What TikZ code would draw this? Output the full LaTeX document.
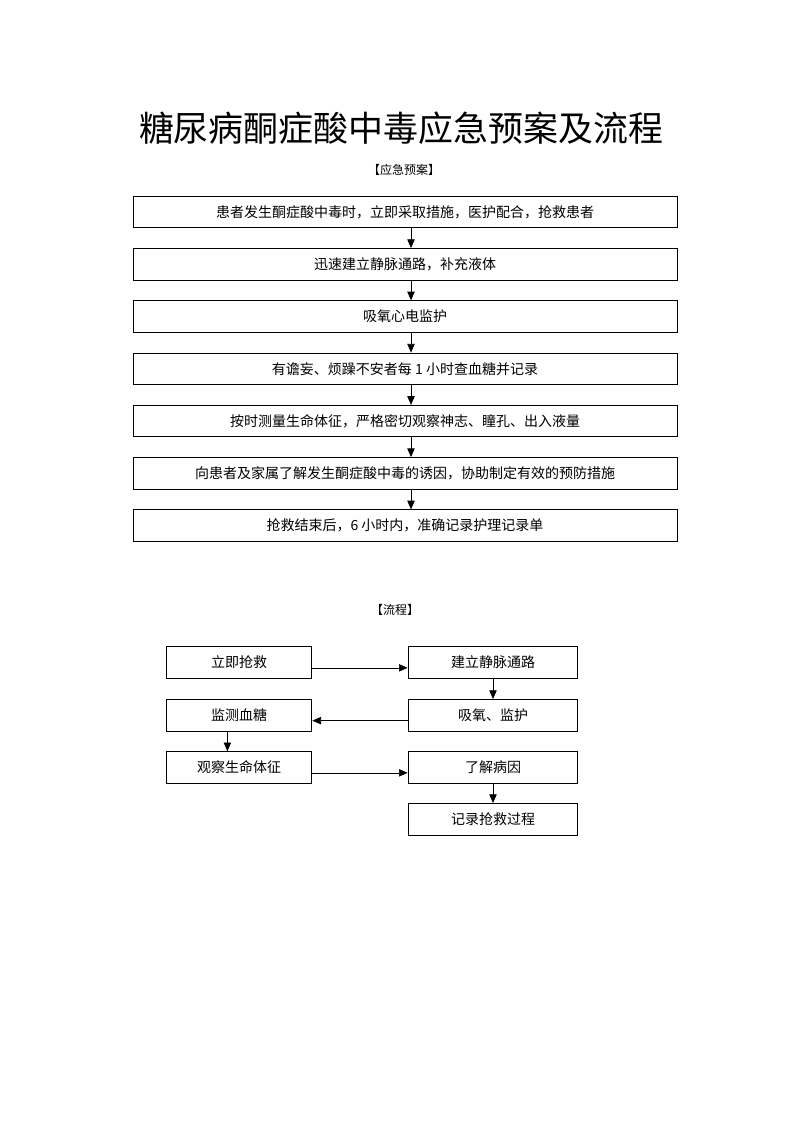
\documentclass[tikz,border=0pt]{standalone}
\usepackage{fontspec}
\setmainfont{Noto Sans CJK SC}
\usepackage{tikz}
\usetikzlibrary{positioning,arrows.meta}

\begin{document}
\begin{tikzpicture}[x=0.75pt, y=-0.75pt, node distance={14.9pt},
    step box/.style = {draw, line width=0.7pt, minimum width=408pt, minimum height=23.6pt, inner sep=0pt, font=\fontsize{10.5}{12}\selectfont},
    left box/.style = {draw, line width=0.7pt, minimum width=109.3pt, minimum height=23.7pt, inner sep=0pt, font=\fontsize{10.5}{12}\selectfont},
    right box/.style = {draw, line width=0.7pt, minimum width=127.3pt, minimum height=23.7pt, inner sep=0pt, font=\fontsize{10.5}{12}\selectfont},
    arr/.style = {line width=0.5pt, -{Triangle[length=6.5pt, width=5.5pt]}}]
    \useasboundingbox (0,0) rectangle (800,1132);

    \node (title) at (401,128) {\fontsize{26.2}{30}\selectfont 糖尿病酮症酸中毒应急预案及流程};
    \node (plan) at (404,170) {\fontsize{9}{11}\selectfont 【应急预案】};

    \node[step box] (s1) at (405,212) {患者发生酮症酸中毒时，立即采取措施，医护配合，抢救患者};
    \node[step box] (s2) [below=of s1] {迅速建立静脉通路，补充液体};
    \node[step box] (s3) [below=of s2] {吸氧心电监护};
    \node[step box] (s4) [below=of s3] {有谵妄、烦躁不安者每 1 小时查血糖并记录};
    \node[step box] (s5) [below=of s4] {按时测量生命体征，严格密切观察神志、瞳孔、出入液量};
    \node[step box] (s6) [below=of s5] {向患者及家属了解发生酮症酸中毒的诱因，协助制定有效的预防措施};
    \node[step box] (s7) [below=of s6] {抢救结束后，6 小时内，准确记录护理记录单};

    \draw[arr] ([xshift=4.5pt]s1.south) to ([xshift=4.5pt]s2.north);
    \draw[arr] ([xshift=4.5pt]s2.south) to ([xshift=4.5pt]s3.north);
    \draw[arr] ([xshift=4.5pt]s3.south) to ([xshift=4.5pt]s4.north);
    \draw[arr] ([xshift=4.5pt]s4.south) to ([xshift=4.5pt]s5.north);
    \draw[arr] ([xshift=4.5pt]s5.south) to ([xshift=4.5pt]s6.north);
    \draw[arr] ([xshift=4.5pt]s6.south) to ([xshift=4.5pt]s7.north);

    \node (flow) at (395,610) {\fontsize{9}{11}\selectfont 【流程】};

    \node[left box] (rescue) at (239,662.5) {立即抢救};
    \node[right box] (vein) at (493,662.5) {建立静脉通路};
    \node[right box] (oxygen) at (493,715.3) {吸氧、监护};
    \node[left box] (glucose) at (239,715.3) {监测血糖};
    \node[left box] (vital) at (239,767.5) {观察生命体征};
    \node[right box] (cause) at (493,767.5) {了解病因};
    \node[right box] (record) at (493,819.3) {记录抢救过程};

    \draw[arr] ([yshift=-4pt]rescue.east) to ([yshift=-4pt]vein.west);
    \draw[arr] (vein) to (oxygen);
    \draw[arr] ([yshift=-4pt]oxygen.west) to ([yshift=-4pt]glucose.east);
    \draw[arr] ([xshift=-8.7pt]glucose.south) to ([xshift=-8.7pt]vital.north);
    \draw[arr] ([yshift=-4pt]vital.east) to ([yshift=-4pt]cause.west);
    \draw[arr] (cause) to (record);
\end{tikzpicture}
\end{document}
